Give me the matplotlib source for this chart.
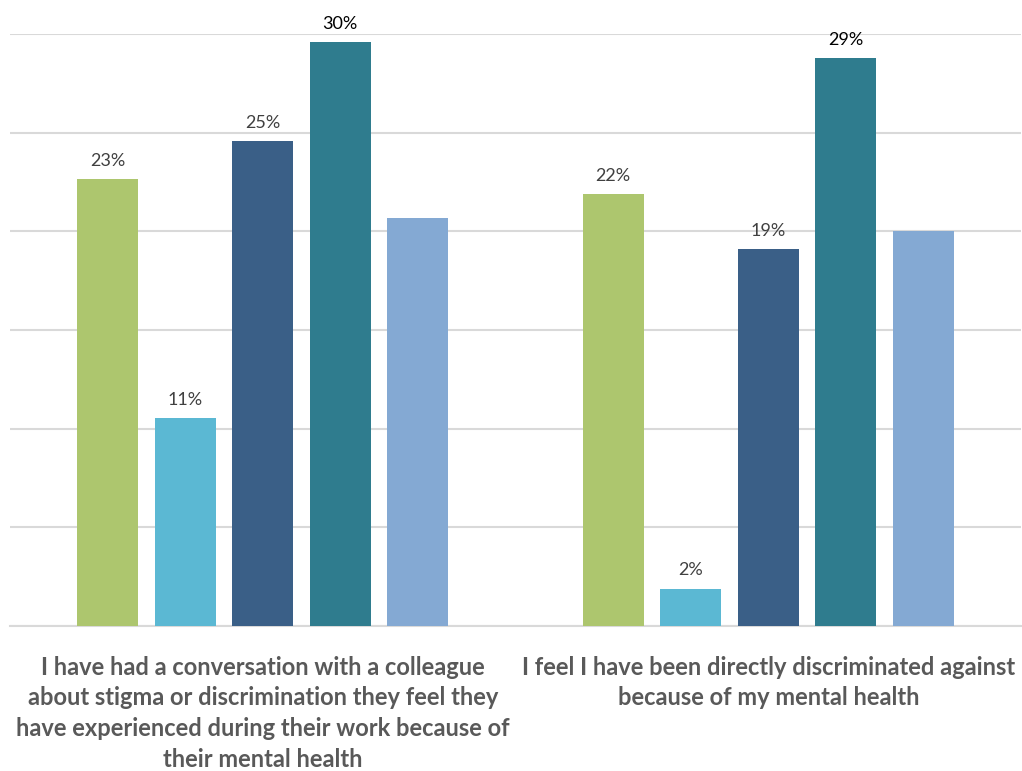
import numpy as np
import matplotlib.pyplot as plt

# data (percent)
categories = ["I have had a conversation with a colleague\nabout stigma or discrimination they feel they\nhave experienced during their work because of\ntheir mental health",
              "I feel I have been directly discriminated against\nbecause of my mental health"]
series1 = [22.65, 21.9]
series2 = [10.52, 1.9]
series3 = [24.6, 19.1]
series4 = [29.6, 28.8]
series5 = [20.7, 20.0]
labels1 = ["23%", "22%"]
labels2 = ["11%", "2%"]
labels3 = ["25%", "19%"]
labels4 = ["30%", "29%"]

colors = ["#ADC66E", "#5BB8D3", "#3A5F87", "#2F7C8E", "#84A9D3"]
label_colors = ["#404040", "#404040", "#404040", "#000000", None]

plt.rcParams['font.family'] = ['Lato', 'DejaVu Sans']

fig = plt.figure(figsize=(10.22, 7.71), dpi=100)
ax = fig.add_axes([10 / 1022, 1 - 626 / 771, 1011 / 1022, (626 - 34) / 771])

x = np.arange(len(categories))
step = 0.1533
width = 0.1207
all_series = [series1, series2, series3, series4, series5]
all_labels = [labels1, labels2, labels3, labels4, None]

for i, vals in enumerate(all_series):
    pos = x + (i - 2) * step
    bars = ax.bar(pos, vals, width, color=colors[i], zorder=3)
    if all_labels[i] is not None:
        for b, lab in zip(bars, all_labels[i]):
            ax.annotate(lab, (b.get_x() + b.get_width() / 2, b.get_height()),
                        xytext=(0, 13), textcoords='offset points',
                        ha='center', va='center', fontsize=13,
                        color=label_colors[i], zorder=4)

ax.set_xlim(-0.5, 1.5)
ax.set_ylim(0, 30)
ax.set_yticks(np.arange(0, 31, 5))
ax.yaxis.grid(True, color='#D9D9D9', linewidth=1.5, zorder=0)
ax.tick_params(left=False, labelleft=False, bottom=False)
for s in ['top', 'right', 'left']:
    ax.spines[s].set_visible(False)
ax.spines['bottom'].set_color('#D9D9D9')
ax.spines['bottom'].set_linewidth(1.5)

ax.set_xticks(x)
ax.set_xticklabels(categories, fontsize=17, fontweight='bold', color='#595959',
                   linespacing=1.4)
ax.tick_params(axis='x', pad=18)

fig.savefig('out.png', dpi=100)
